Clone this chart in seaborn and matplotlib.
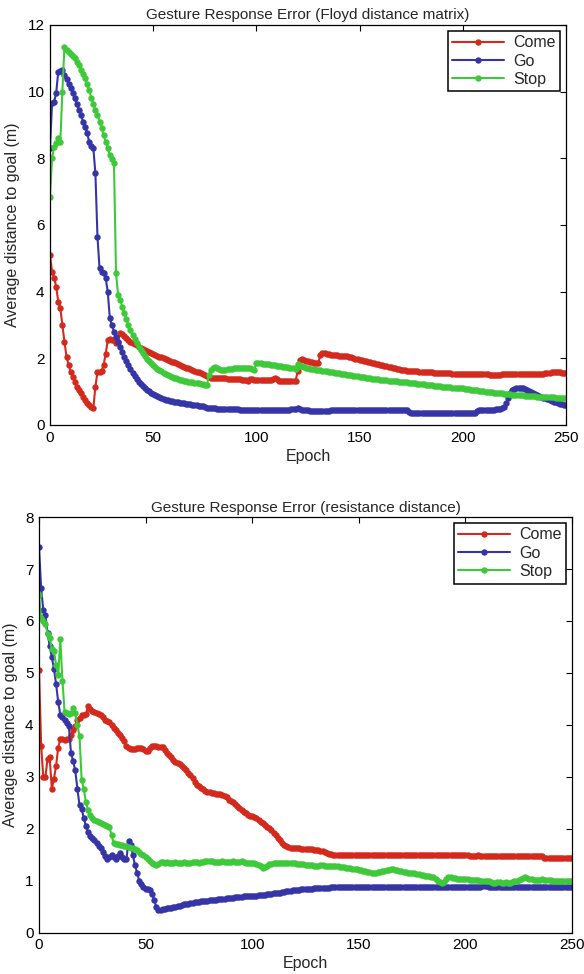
import numpy as np
import pandas as pd
import matplotlib
matplotlib.use("Agg")
import matplotlib.pyplot as plt
import seaborn as sns

# ---------------- data ----------------
gestures = ["Come", "Go", "Stop"]
colors = ["#d42a1e", "#3535a8", "#3ec93a"]
epochs = list(range(0, 251))

floyd_come = [
    5.1, 4.6, 4.42, 4.15, 3.7, 3.5, 3.0, 2.5, 2.05, 1.8,
    1.6, 1.45, 1.3, 1.15, 1.05, 0.95, 0.85, 0.75, 0.67, 0.6,
    0.55, 0.5, 1.15, 1.58, 1.6, 1.62, 1.8, 2.14, 2.55, 2.58,
    2.55, 2.54, 2.45, 2.5, 2.76, 2.72, 2.67, 2.61, 2.55, 2.5,
    2.46, 2.42, 2.39, 2.35, 2.32, 2.29, 2.26, 2.23, 2.2, 2.17,
    2.14, 2.11, 2.08, 2.05, 2.03, 2.0, 1.98, 1.95, 1.93, 1.9,
    1.88, 1.86, 1.83, 1.8, 1.78, 1.75, 1.72, 1.7, 1.67, 1.65,
    1.62, 1.6, 1.58, 1.56, 1.53, 1.5, 1.48, 1.44, 1.42, 1.42,
    1.42, 1.41, 1.41, 1.4, 1.4, 1.4, 1.39, 1.39, 1.38, 1.38,
    1.38, 1.37, 1.37, 1.36, 1.36, 1.35, 1.33, 1.38, 1.37, 1.36,
    1.36, 1.35, 1.35, 1.35, 1.36, 1.36, 1.35, 1.36, 1.37, 1.4,
    1.37, 1.33, 1.32, 1.32, 1.32, 1.31, 1.31, 1.31, 1.32, 1.32,
    1.62, 1.95, 1.97, 1.95, 1.93, 1.92, 1.9, 1.88, 1.87, 1.86,
    1.86, 2.1, 2.15, 2.15, 2.13, 2.12, 2.11, 2.1, 2.1, 2.09,
    2.08, 2.08, 2.07, 2.08, 2.07, 2.05, 2.03, 2.01, 1.99, 1.97,
    1.95, 1.94, 1.92, 1.91, 1.9, 1.88, 1.87, 1.86, 1.84, 1.82,
    1.81, 1.79, 1.78, 1.76, 1.75, 1.74, 1.72, 1.7, 1.68, 1.67,
    1.66, 1.65, 1.64, 1.63, 1.63, 1.62, 1.62, 1.61, 1.61, 1.6,
    1.6, 1.6, 1.59, 1.59, 1.58, 1.58, 1.57, 1.57, 1.56, 1.56,
    1.56, 1.55, 1.55, 1.55, 1.55, 1.54, 1.54, 1.54, 1.54, 1.54,
    1.54, 1.53, 1.53, 1.53, 1.53, 1.53, 1.52, 1.52, 1.52, 1.52,
    1.52, 1.52, 1.52, 1.51, 1.51, 1.51, 1.51, 1.51, 1.51, 1.52,
    1.52, 1.52, 1.52, 1.52, 1.52, 1.52, 1.52, 1.52, 1.52, 1.52,
    1.52, 1.52, 1.52, 1.52, 1.52, 1.52, 1.52, 1.53, 1.53, 1.54,
    1.55, 1.56, 1.57, 1.58, 1.58, 1.59, 1.59, 1.58, 1.57, 1.56,
    1.56,
]

floyd_go = [
    8.3, 9.65, 9.7, 9.95, 10.6, 10.63, 10.65, 10.5, 10.38, 10.22,
    10.1, 9.95, 9.8, 9.62, 9.45, 9.3, 9.1, 8.95, 8.75, 8.5,
    8.38, 8.3, 7.55, 5.65, 4.7, 4.6, 4.55, 4.4, 3.98, 3.2,
    3.0, 2.8, 2.65, 2.5, 2.35, 2.2, 2.05, 1.92, 1.8, 1.68,
    1.57, 1.47, 1.38, 1.3, 1.23, 1.17, 1.11, 1.05, 1.01, 0.97,
    0.93, 0.89, 0.86, 0.83, 0.8, 0.78, 0.76, 0.75, 0.73, 0.71,
    0.7, 0.69, 0.68, 0.67, 0.66, 0.65, 0.64, 0.63, 0.62, 0.61,
    0.6, 0.59, 0.58, 0.57, 0.56, 0.54, 0.52, 0.5, 0.5, 0.5,
    0.5, 0.49, 0.49, 0.49, 0.48, 0.48, 0.48, 0.48, 0.47, 0.47,
    0.47, 0.47, 0.46, 0.46, 0.46, 0.46, 0.45, 0.45, 0.45, 0.45,
    0.45, 0.45, 0.44, 0.44, 0.44, 0.44, 0.44, 0.44, 0.44, 0.44,
    0.44, 0.44, 0.44, 0.44, 0.44, 0.45, 0.46, 0.47, 0.48, 0.49,
    0.5, 0.48, 0.46, 0.45, 0.45, 0.44, 0.43, 0.42, 0.42, 0.42,
    0.42, 0.42, 0.42, 0.43, 0.43, 0.43, 0.44, 0.44, 0.44, 0.44,
    0.45, 0.45, 0.45, 0.45, 0.45, 0.45, 0.45, 0.45, 0.45, 0.45,
    0.45, 0.45, 0.45, 0.45, 0.45, 0.45, 0.45, 0.45, 0.45, 0.45,
    0.45, 0.45, 0.45, 0.45, 0.45, 0.45, 0.45, 0.45, 0.45, 0.45,
    0.45, 0.45, 0.45, 0.45, 0.38, 0.37, 0.37, 0.37, 0.37, 0.37,
    0.37, 0.37, 0.37, 0.37, 0.37, 0.37, 0.37, 0.37, 0.37, 0.37,
    0.37, 0.37, 0.37, 0.37, 0.37, 0.37, 0.37, 0.37, 0.37, 0.37,
    0.37, 0.37, 0.37, 0.36, 0.36, 0.35, 0.35, 0.43, 0.44, 0.44,
    0.44, 0.45, 0.45, 0.45, 0.46, 0.46, 0.47, 0.47, 0.48, 0.5,
    0.55, 0.65, 0.8, 0.95, 1.05, 1.08, 1.1, 1.12, 1.12, 1.11,
    1.09, 1.06, 1.03, 1.0, 0.97, 0.94, 0.91, 0.88, 0.85, 0.82,
    0.8, 0.77, 0.75, 0.72, 0.7, 0.68, 0.66, 0.64, 0.62, 0.61,
    0.6,
]

floyd_stop = [
    6.85, 8.0, 8.35, 8.45, 8.6, 8.5, 10.0, 11.35, 11.25, 11.2,
    11.12, 11.06, 11.0, 10.9, 10.8, 10.66, 10.52, 10.4, 10.22, 10.05,
    9.82, 9.62, 9.45, 9.3, 9.1, 8.9, 8.7, 8.5, 8.3, 8.1,
    7.98, 7.85, 4.55, 3.9, 3.75, 3.55, 3.35, 3.18, 3.0, 2.85,
    2.7, 2.57, 2.45, 2.35, 2.25, 2.15, 2.06, 1.98, 1.91, 1.85,
    1.79, 1.74, 1.69, 1.65, 1.61, 1.57, 1.53, 1.5, 1.47, 1.44,
    1.42, 1.4, 1.38, 1.36, 1.34, 1.33, 1.32, 1.3, 1.29, 1.28,
    1.27, 1.26, 1.25, 1.24, 1.22, 1.2, 1.19, 1.5, 1.65, 1.72,
    1.74, 1.72, 1.68, 1.64, 1.64, 1.66, 1.67, 1.68, 1.69, 1.7,
    1.7, 1.7, 1.71, 1.7, 1.7, 1.71, 1.7, 1.7, 1.68, 1.66,
    1.85, 1.86, 1.85, 1.84, 1.83, 1.83, 1.82, 1.81, 1.8, 1.79,
    1.78, 1.77, 1.76, 1.75, 1.74, 1.73, 1.72, 1.7, 1.7, 1.69,
    1.83, 1.78, 1.76, 1.74, 1.72, 1.7, 1.69, 1.68, 1.67, 1.66,
    1.65, 1.64, 1.63, 1.62, 1.61, 1.6, 1.59, 1.58, 1.57, 1.56,
    1.55, 1.54, 1.53, 1.52, 1.51, 1.5, 1.49, 1.48, 1.47, 1.46,
    1.45, 1.44, 1.43, 1.42, 1.41, 1.4, 1.39, 1.38, 1.38, 1.37,
    1.36, 1.35, 1.35, 1.34, 1.33, 1.33, 1.32, 1.32, 1.31, 1.3,
    1.3, 1.29, 1.28, 1.28, 1.27, 1.26, 1.26, 1.25, 1.24, 1.23,
    1.23, 1.22, 1.21, 1.21, 1.2, 1.19, 1.18, 1.17, 1.17, 1.16,
    1.15, 1.15, 1.14, 1.13, 1.13, 1.12, 1.12, 1.11, 1.11, 1.1,
    1.1, 1.09, 1.08, 1.07, 1.06, 1.05, 1.05, 1.04, 1.03, 1.02,
    1.01, 1.0, 0.99, 0.99, 0.98, 0.97, 0.97, 0.96, 0.95, 0.95,
    0.94, 0.93, 0.93, 0.92, 0.91, 0.91, 0.9, 0.9, 0.89, 0.89,
    0.88, 0.88, 0.87, 0.87, 0.86, 0.86, 0.85, 0.85, 0.85, 0.84,
    0.84, 0.84, 0.83, 0.83, 0.83, 0.82, 0.82, 0.82, 0.81, 0.81,
    0.8,
]

resist_come = [
    5.06, 3.6, 3.0, 2.99, 3.35, 3.38, 2.77, 2.96, 3.21, 3.56,
    3.72, 3.72, 3.7, 3.72, 3.72, 3.8, 3.9, 3.97, 4.1, 4.13,
    4.18, 4.19, 4.2, 4.36, 4.3, 4.26, 4.24, 4.22, 4.2, 4.19,
    4.15, 4.1, 4.07, 4.06, 4.0, 3.94, 3.9, 3.85, 3.81, 3.75,
    3.68, 3.6, 3.56, 3.53, 3.53, 3.54, 3.55, 3.56, 3.56, 3.53,
    3.5, 3.5, 3.55, 3.59, 3.59, 3.59, 3.58, 3.58, 3.57, 3.52,
    3.46, 3.42, 3.38, 3.33, 3.29, 3.26, 3.24, 3.2, 3.16, 3.12,
    3.08, 3.03, 2.97, 2.9, 2.84, 2.82, 2.79, 2.76, 2.73, 2.71,
    2.7, 2.69, 2.68, 2.67, 2.66, 2.66, 2.65, 2.63, 2.6, 2.56,
    2.54, 2.51, 2.48, 2.44, 2.4, 2.36, 2.32, 2.3, 2.27, 2.25,
    2.24, 2.22, 2.2, 2.17, 2.13, 2.1, 2.07, 2.04, 2.01, 1.97,
    1.92, 1.87, 1.82, 1.78, 1.73, 1.69, 1.66, 1.64, 1.63, 1.63,
    1.62, 1.62, 1.62, 1.61, 1.61, 1.61, 1.6, 1.6, 1.6, 1.59,
    1.58, 1.58, 1.57, 1.57, 1.55, 1.53, 1.51, 1.51, 1.5, 1.5,
    1.5, 1.5, 1.5, 1.49, 1.5, 1.49, 1.49, 1.49, 1.49, 1.49,
    1.49, 1.49, 1.49, 1.5, 1.49, 1.49, 1.49, 1.49, 1.49, 1.49,
    1.49, 1.49, 1.49, 1.49, 1.49, 1.5, 1.49, 1.49, 1.49, 1.49,
    1.49, 1.49, 1.49, 1.49, 1.49, 1.49, 1.49, 1.49, 1.49, 1.49,
    1.49, 1.49, 1.49, 1.49, 1.49, 1.49, 1.49, 1.49, 1.49, 1.49,
    1.49, 1.49, 1.49, 1.49, 1.49, 1.49, 1.49, 1.49, 1.49, 1.49,
    1.49, 1.49, 1.48, 1.48, 1.48, 1.48, 1.5, 1.48, 1.48, 1.48,
    1.48, 1.48, 1.48, 1.48, 1.48, 1.48, 1.48, 1.48, 1.48, 1.48,
    1.48, 1.48, 1.48, 1.48, 1.48, 1.48, 1.48, 1.48, 1.48, 1.48,
    1.48, 1.48, 1.48, 1.48, 1.48, 1.48, 1.47, 1.44, 1.44, 1.44,
    1.44, 1.44, 1.44, 1.44, 1.44, 1.44, 1.44, 1.44, 1.44, 1.44,
    1.44,
]

resist_go = [
    7.42, 6.63, 6.21, 6.12, 5.77, 5.52, 5.3, 5.08, 4.79, 4.44,
    4.19, 4.15, 4.1, 4.03, 3.97, 3.46, 3.3, 3.12, 2.77, 2.45,
    2.38, 2.2, 2.05, 1.93, 1.86, 1.82, 1.79, 1.72, 1.67, 1.63,
    1.55, 1.47, 1.41, 1.45, 1.5, 1.45, 1.41, 1.47, 1.53, 1.45,
    1.41, 1.41, 1.77, 1.69, 1.5, 1.3, 1.15, 1.0, 0.93, 0.88,
    0.84, 0.83, 0.81, 0.75, 0.62, 0.5, 0.43, 0.44, 0.45, 0.46,
    0.47, 0.48, 0.48, 0.49, 0.5, 0.51, 0.52, 0.53, 0.54, 0.55,
    0.55, 0.56, 0.57, 0.58, 0.58, 0.59, 0.6, 0.6, 0.61, 0.61,
    0.62, 0.62, 0.63, 0.63, 0.64, 0.64, 0.65, 0.65, 0.66, 0.66,
    0.67, 0.67, 0.68, 0.68, 0.69, 0.69, 0.7, 0.7, 0.7, 0.71,
    0.71, 0.71, 0.71, 0.72, 0.72, 0.72, 0.73, 0.74, 0.75, 0.75,
    0.76, 0.76, 0.77, 0.77, 0.78, 0.78, 0.79, 0.8, 0.8, 0.81,
    0.81, 0.82, 0.82, 0.83, 0.83, 0.83, 0.84, 0.84, 0.84, 0.85,
    0.85, 0.85, 0.85, 0.86, 0.86, 0.86, 0.86, 0.87, 0.87, 0.87,
    0.87, 0.87, 0.87, 0.87, 0.87, 0.87, 0.87, 0.87, 0.87, 0.87,
    0.87, 0.87, 0.87, 0.87, 0.87, 0.87, 0.87, 0.87, 0.87, 0.87,
    0.87, 0.87, 0.87, 0.87, 0.87, 0.87, 0.87, 0.87, 0.87, 0.87,
    0.87, 0.87, 0.87, 0.87, 0.87, 0.87, 0.87, 0.87, 0.87, 0.87,
    0.87, 0.87, 0.87, 0.87, 0.87, 0.87, 0.87, 0.87, 0.87, 0.87,
    0.87, 0.87, 0.87, 0.87, 0.87, 0.87, 0.87, 0.87, 0.87, 0.87,
    0.87, 0.87, 0.87, 0.87, 0.87, 0.87, 0.87, 0.87, 0.89, 0.9,
    0.89, 0.87, 0.87, 0.87, 0.87, 0.87, 0.87, 0.87, 0.87, 0.87,
    0.87, 0.87, 0.87, 0.87, 0.87, 0.87, 0.87, 0.87, 0.87, 0.87,
    0.87, 0.87, 0.87, 0.87, 0.87, 0.87, 0.87, 0.87, 0.87, 0.87,
    0.87, 0.87, 0.87, 0.87, 0.87, 0.87, 0.87, 0.87, 0.87, 0.87,
    0.87,
]

resist_stop = [
    6.5, 6.05, 6.0, 5.95, 5.75, 5.68, 5.46, 5.42, 5.15, 4.95,
    5.65, 4.85, 4.25, 4.22, 4.2, 4.22, 4.32, 4.22, 4.0, 3.78,
    2.93, 2.77, 2.51, 2.36, 2.26, 2.2, 2.17, 2.15, 2.13, 2.11,
    2.09, 2.07, 2.06, 2.04, 1.88, 1.72, 1.7, 1.7, 1.69, 1.68,
    1.67, 1.66, 1.64, 1.63, 1.62, 1.6, 1.58, 1.55, 1.52, 1.5,
    1.46, 1.42, 1.38, 1.34, 1.31, 1.3, 1.32, 1.36, 1.35, 1.34,
    1.35, 1.34, 1.34, 1.33, 1.35, 1.34, 1.33, 1.34, 1.35, 1.34,
    1.33, 1.34, 1.35, 1.36, 1.35, 1.34, 1.35, 1.36, 1.37, 1.38,
    1.38, 1.37, 1.36, 1.36, 1.35, 1.36, 1.37, 1.36, 1.36, 1.36,
    1.36, 1.37, 1.36, 1.35, 1.36, 1.37, 1.35, 1.34, 1.34, 1.34,
    1.34, 1.33, 1.32, 1.3, 1.28, 1.25, 1.26, 1.29, 1.31, 1.32,
    1.33, 1.33, 1.34, 1.34, 1.34, 1.33, 1.34, 1.34, 1.33, 1.33,
    1.33, 1.32, 1.32, 1.31, 1.31, 1.3, 1.3, 1.3, 1.3, 1.29,
    1.29, 1.29, 1.3, 1.3, 1.29, 1.29, 1.28, 1.28, 1.28, 1.28,
    1.28, 1.27, 1.27, 1.26, 1.25, 1.25, 1.24, 1.23, 1.22, 1.22,
    1.21, 1.2, 1.19, 1.18, 1.17, 1.16, 1.15, 1.15, 1.15, 1.16,
    1.17, 1.18, 1.19, 1.2, 1.21, 1.22, 1.22, 1.21, 1.2, 1.19,
    1.18, 1.17, 1.16, 1.15, 1.15, 1.15, 1.14, 1.13, 1.12, 1.11,
    1.1, 1.09, 1.09, 1.08, 1.07, 1.06, 1.03, 1.0, 0.97, 0.96,
    0.98, 1.04, 1.06, 1.06, 1.05, 1.05, 1.04, 1.04, 1.04, 1.03,
    1.03, 1.03, 1.02, 1.02, 1.02, 1.01, 1.01, 1.0, 1.0, 1.0,
    1.0, 0.99, 0.97, 0.95, 0.96, 0.98, 0.97, 0.96, 0.96, 0.97,
    0.96, 0.95, 0.97, 0.99, 1.0, 1.01, 1.03, 1.05, 1.06, 1.05,
    1.04, 1.03, 1.02, 1.02, 1.02, 1.02, 1.03, 1.02, 1.01, 1.01,
    1.01, 1.0, 1.0, 1.0, 1.0, 1.0, 1.0, 1.0, 1.0, 1.0,
    1.0,
]

titles = ["Gesture Response Error (Floyd distance matrix)",
          "Gesture Response Error (resistance distance)"]
x_label = "Epoch"
y_label = "Average distance to goal (m)"
x_ticks = [0, 50, 100, 150, 200, 250]
y_ticks_top = [0, 2, 4, 6, 8, 10, 12]
y_ticks_bottom = [0, 1, 2, 3, 4, 5, 6, 7, 8]

# ---------------- plotting ----------------
sns.set_theme(style="white")
plt.rcParams["font.family"] = ["Liberation Sans", "DejaVu Sans"]


def long_frame(series):
    rows = []
    for g, vals in zip(gestures, series):
        rows.append(pd.DataFrame({"Epoch": epochs[:len(vals)], "value": vals, "Gesture": g}))
    return pd.concat(rows, ignore_index=True)


fig = plt.figure(figsize=(5.84, 9.74), dpi=100)
ax1 = fig.add_axes([0.0856, 0.5637, 0.8836, 0.4107])
ax2 = fig.add_axes([0.0668, 0.0426, 0.9127, 0.4265])

panels = [
    (ax1, [floyd_come, floyd_go, floyd_stop], titles[0], y_ticks_top),
    (ax2, [resist_come, resist_go, resist_stop], titles[1], y_ticks_bottom),
]
palette = dict(zip(gestures, colors))

for ax, series, title, yt in panels:
    df = long_frame(series)
    sns.lineplot(data=df, x="Epoch", y="value", hue="Gesture", palette=palette,
                 hue_order=gestures, marker="o", markersize=4.6, markeredgewidth=0,
                 linewidth=1.5, estimator=None, ax=ax)
    ax.set_xlim(x_ticks[0], x_ticks[-1])
    ax.set_ylim(yt[0], yt[-1])
    ax.set_xticks(x_ticks)
    ax.set_yticks(yt)
    ax.set_xlabel(x_label, fontsize=11.5, labelpad=3)
    ax.set_ylabel(y_label, fontsize=11.5, labelpad=5)
    ax.set_title(title, fontsize=11, pad=4)
    ax.tick_params(direction="in", length=4, width=0.8, top=True, right=True,
                   labelsize=11, colors="black", pad=4)
    for s in ax.spines.values():
        s.set_visible(True)
        s.set_color("black")
        s.set_linewidth(0.9)
    leg = ax.legend(loc="upper right", frameon=True, fancybox=False, fontsize=11.5,
                    borderaxespad=0.35, handlelength=3.2, handletextpad=0.6,
                    labelspacing=0.2, borderpad=0.3)
    leg.get_frame().set_edgecolor("black")
    leg.get_frame().set_linewidth(1.1)
    leg.get_frame().set_alpha(1.0)

fig.savefig("out.png", dpi=100, facecolor="white")
